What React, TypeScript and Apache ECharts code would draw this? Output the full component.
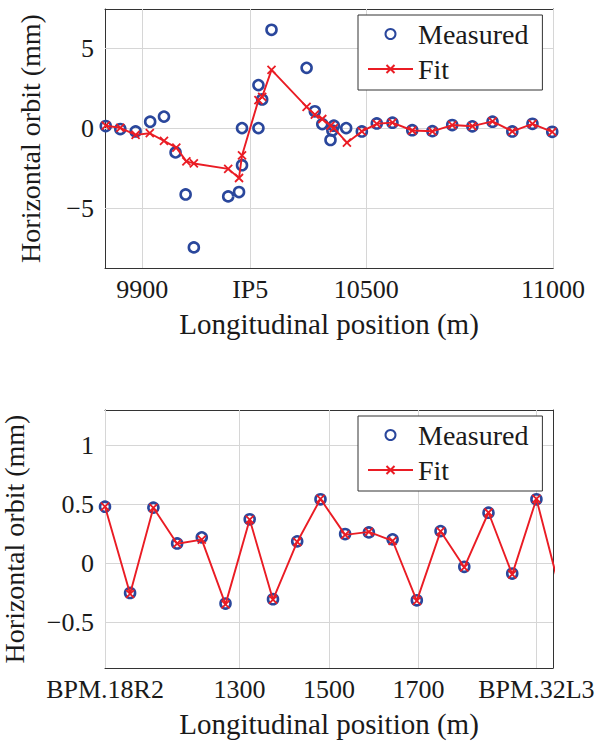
import React, { useEffect, useRef } from "react";
import * as echarts from "echarts";

// ---------- data ----------
const topXMin = 9800;
const topXMax = 11000;
const topYMin = -8.75;
const topYMax = 7.45;
const topXTicks = [9900, 10189, 10500, 11000];
const topXTickLabels = ["9900", "IP5", "10500", "11000"];
const topYTicks = [-5, 0, 5];

const topMeasuredX = [9802, 9841, 9882, 9921, 9958, 9989, 10016, 10038, 10130, 10159, 10167, 10167, 10211, 10221, 10211, 10246, 10340, 10362, 10382, 10404, 10413, 10409, 10446, 10488, 10528, 10570, 10623, 10677, 10730, 10784, 10838, 10891, 10945, 10998];
const topMeasuredY = [0.13, -0.06, -0.21, 0.4, 0.72, -1.52, -4.15, -7.46, -4.27, -4.0, -2.32, 0.0, 2.69, 1.79, 0.0, 6.15, 3.77, 1.05, 0.25, -0.74, 0.15, -0.15, 0.0, -0.21, 0.29, 0.34, -0.13, -0.19, 0.19, 0.11, 0.4, -0.21, 0.27, -0.23];

const topFitX = [9802, 9841, 9882, 9920, 9958, 9991, 10018, 10038, 10130, 10159, 10167, 10211, 10221, 10246, 10340, 10362, 10382, 10404, 10413, 10448, 10488, 10528, 10570, 10623, 10677, 10730, 10784, 10838, 10891, 10945, 10998];
const topFitY = [0.15, 0.02, -0.42, -0.32, -0.8, -1.22, -2.08, -2.21, -2.55, -3.12, -1.71, 1.75, 1.95, 3.64, 1.33, 0.84, 0.57, 0.15, 0.0, -0.91, -0.21, 0.27, 0.34, -0.15, -0.2, 0.19, 0.12, 0.42, -0.2, 0.27, -0.24];

const botXMin = 1000;
const botXMax = 2000;
const botYMin = -0.89;
const botYMax = 1.3;
const botXTicks = [1000, 1300, 1500, 1700, 1963];
const botXTickLabels = ["BPM.18R2", "1300", "1500", "1700", "BPM.32L3"];
const botYTicks = [-0.5, 0, 0.5, 1];

const botMeasuredX = [1000, 1056, 1108, 1161, 1216, 1269, 1323, 1375, 1429, 1481, 1536, 1589, 1642, 1696, 1749, 1802, 1856, 1909, 1963];
const botMeasuredY = [0.479, -0.253, 0.471, 0.167, 0.219, -0.343, 0.372, -0.306, 0.185, 0.542, 0.247, 0.261, 0.202, -0.315, 0.272, -0.031, 0.428, -0.088, 0.542];

const botFitX = [1000, 1056, 1108, 1161, 1216, 1269, 1323, 1375, 1429, 1481, 1536, 1589, 1642, 1696, 1749, 1802, 1856, 1909, 1963, 2017];
const botFitY = [0.48, -0.26, 0.47, 0.165, 0.2, -0.35, 0.37, -0.31, 0.18, 0.545, 0.24, 0.265, 0.19, -0.32, 0.27, -0.035, 0.43, -0.095, 0.545, -0.25];

const seriesNames = ["Measured", "Fit"];
const xName = "Longitudinal position (m)";
const yName = "Horizontal orbit (mm)";

// ---------- style ----------
const FONT = "'Liberation Serif', 'DejaVu Serif', serif";
const TEXT = "#1a1a1a";
const BLUE = "#2a479c";
const RED = "#ea1c24";
const FRAME = "#333333";
const TICK = "#9a9a9a";
const GRID = "#d6d6d6";
const X_PATH = "path://M0,0L10,10M0,10L10,0";

const zip = (xs: number[], ys: number[]) => xs.map((x, i) => [x, ys[i]]);
const fmtNum = (v: number) => (v < 0 ? "\u2212" + String(Math.abs(v)) : String(v));
const lookup = (ticks: number[], labels: string[]) => (v: number) => {
  const i = ticks.findIndex((t) => Math.abs(t - v) < 1e-6);
  return i >= 0 ? labels[i] : "";
};

function xAxes(gridIndex: number, min: number, max: number, ticks: number[], labels: string[]) {
  const common = {
    gridIndex,
    type: "value",
    min,
    max,
    axisLine: { show: true, onZero: false, lineStyle: { color: FRAME, width: 1 } },
    axisTick: { show: true, inside: true, length: 10, customValues: ticks, lineStyle: { color: TICK, width: 1 } },
    splitLine: { show: false },
  };
  return [
    {
      ...common,
      position: "bottom",
      axisLabel: {
        customValues: ticks,
        formatter: lookup(ticks, labels),
        fontFamily: FONT,
        fontSize: 26,
        color: TEXT,
        margin: 8,
        hideOverlap: false,
      },
      name: xName,
      nameLocation: "middle",
      nameGap: 41,
      nameTextStyle: { fontFamily: FONT, fontSize: 29, color: TEXT },
    },
    { ...common, position: "top", axisLabel: { show: false } },
  ];
}

function yAxes(gridIndex: number, min: number, max: number, ticks: number[], nameGap: number) {
  const common = {
    gridIndex,
    type: "value",
    min,
    max,
    axisLine: { show: true, onZero: false, lineStyle: { color: FRAME, width: 1 } },
    axisTick: { show: true, inside: true, length: 10, customValues: ticks, lineStyle: { color: TICK, width: 1 } },
    splitLine: { show: false },
  };
  return [
    {
      ...common,
      position: "left",
      axisLabel: {
        customValues: ticks,
        formatter: (v: number) => fmtNum(v),
        fontFamily: FONT,
        fontSize: 26,
        color: TEXT,
        margin: 11,
        hideOverlap: false,
      },
      name: yName,
      nameLocation: "middle",
      nameGap,
      nameTextStyle: { fontFamily: FONT, fontSize: 28, color: TEXT },
    },
    { ...common, position: "right", axisLabel: { show: false } },
  ];
}

function gridLines(xt: number[], yt: number[]) {
  return {
    silent: true,
    symbol: ["none", "none"],
    z: 1,
    label: { show: false },
    emphasis: { disabled: true },
    lineStyle: { color: GRID, width: 1, type: "solid" },
    data: [...xt.map((v) => ({ xAxis: v })), ...yt.map((v) => ({ yAxis: v }))],
  };
}

function legend(top: number) {
  return {
    left: 358,
    top,
    orient: "vertical",
    data: seriesNames,
    itemWidth: 45,
    itemHeight: 10,
    itemGap: 7,
    padding: [5, 14, 7, 9],
    borderColor: FRAME,
    borderWidth: 1,
    borderRadius: 0,
    backgroundColor: "#ffffff",
    selectedMode: false,
    textStyle: { fontFamily: FONT, fontSize: 28, color: TEXT, lineHeight: 24 },
  };
}

function measured(idx: number, data: number[][], xt: number[], yt: number[]) {
  return {
    type: "scatter",
    name: seriesNames[0],
    xAxisIndex: idx * 2,
    yAxisIndex: idx * 2,
    data,
    symbol: "circle",
    symbolSize: 10,
    itemStyle: { color: "rgba(255,255,255,0)", borderColor: BLUE, borderWidth: 2.6, opacity: 1 },
    z: 2,
    markLine: gridLines(xt, yt),
  };
}

function fit(idx: number, data: number[][]) {
  return {
    type: "line",
    name: seriesNames[1],
    xAxisIndex: idx * 2,
    yAxisIndex: idx * 2,
    data,
    symbol: X_PATH,
    symbolSize: 8,
    showSymbol: true,
    clip: true,
    lineStyle: { color: RED, width: 1.9 },
    itemStyle: { color: RED, borderColor: RED, borderWidth: 1.8 },
    z: 3,
  };
}

export default function App() {
  const ref = useRef<HTMLDivElement>(null);
  useEffect(() => {
    if (!ref.current) return;
    const chart = echarts.init(ref.current, undefined, { renderer: "svg" });
    const option: any = {
      animation: false,
      backgroundColor: "#ffffff",
      textStyle: { fontFamily: FONT },
      grid: [
        { left: 105, top: 9, width: 448, height: 259, outerBoundsMode: "none" },
        { left: 105, top: 410, width: 448, height: 258, outerBoundsMode: "none" },
      ],
      xAxis: [
        ...xAxes(0, topXMin, topXMax, topXTicks, topXTickLabels),
        ...xAxes(1, botXMin, botXMax, botXTicks, botXTickLabels),
      ],
      yAxis: [
        ...yAxes(0, topYMin, topYMax, topYTicks, 61),
        ...yAxes(1, botYMin, botYMax, botYTicks, 77),
      ],
      legend: [legend(15), legend(416)],
      series: [
        measured(0, zip(topMeasuredX, topMeasuredY), topXTicks, topYTicks),
        fit(0, zip(topFitX, topFitY)),
        measured(1, zip(botMeasuredX, botMeasuredY), botXTicks, botYTicks),
        fit(1, zip(botFitX, botFitY)),
      ],
    };
    chart.setOption(option);
    return () => chart.dispose();
  }, []);
  return (
    <div
      ref={ref}
      style={{ position: "absolute", left: 0, top: 0, width: 602, height: 741 }}
    />
  );
}
